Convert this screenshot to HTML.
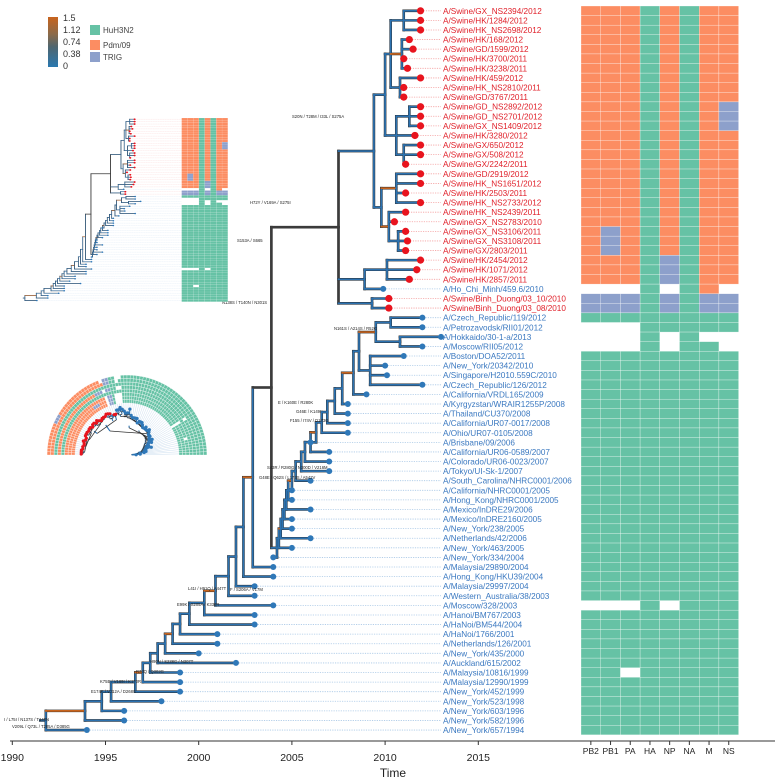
<!DOCTYPE html>
<html><head><meta charset="utf-8">
<style>
html,body{margin:0;padding:0;background:#fff;}
svg{display:block;font-family:"Liberation Sans",sans-serif;}
</style></head>
<body>
<svg id="fig" width="775" height="781" viewBox="0 0 775 781" xmlns="http://www.w3.org/2000/svg">
<defs>
<linearGradient id="rateGrad" x1="0" y1="0" x2="0" y2="1">
<stop offset="0" stop-color="#c8641e"/><stop offset="0.35" stop-color="#8a6a4a"/><stop offset="0.6" stop-color="#4f6670"/><stop offset="1" stop-color="#2a78b0"/>
</linearGradient>
</defs>
<g id="legend">
<rect x="48" y="17" width="10" height="50" fill="url(#rateGrad)"/>
<g font-size="9" fill="#333">
<text x="63" y="21">1.5</text>
<text x="63" y="33">1.12</text>
<text x="63" y="45">0.74</text>
<text x="63" y="57">0.38</text>
<text x="63" y="69">0</text>
</g>
<rect x="90" y="25" width="10" height="10" fill="#66c2a5"/>
<rect x="90" y="40" width="10" height="10" fill="#fc8d62"/>
<rect x="90" y="52" width="10" height="10" fill="#8da0cb"/>
<g font-size="8" fill="#444">
<text x="103" y="33">HuH3N2</text>
<text x="103" y="48">Pdm/09</text>
<text x="103" y="60">TRIG</text>
</g>
</g>
<g id="main"></g>
<g id="inset1" transform="translate(11.4,116.5) scale(0.293,0.252)"></g>
<g id="inset2"></g>
<g id="axis"></g>
</svg>
<script>
const names = ["A/Swine/GX_NS2394/2012","A/Swine/HK/1284/2012","A/Swine/HK_NS2698/2012","A/Swine/HK/168/2012","A/Swine/GD/1599/2012","A/Swine/HK/3700/2011","A/Swine/HK/3238/2011","A/Swine/HK/459/2012","A/Swine/HK_NS2810/2011","A/Swine/GD/3767/2011","A/Swine/GD_NS2892/2012","A/Swine/GD_NS2701/2012","A/Swine/GX_NS1409/2012","A/Swine/HK/3280/2012","A/Swine/GX/650/2012","A/Swine/GX/508/2012","A/Swine/GX/2242/2011","A/Swine/GD/2919/2012","A/Swine/HK_NS1651/2012","A/Swine/HK/2503/2011","A/Swine/HK_NS2733/2012","A/Swine/HK_NS2439/2011","A/Swine/GX_NS2783/2010","A/Swine/GX_NS3106/2011","A/Swine/GX_NS3108/2011","A/Swine/GX/2803/2011","A/Swine/HK/2454/2012","A/Swine/HK/1071/2012","A/Swine/HK/2857/2011","A/Ho_Chi_Minh/459.6/2010","A/Swine/Binh_Duong/03_10/2010","A/Swine/Binh_Duong/03_08/2010","A/Czech_Republic/119/2012","A/Petrozavodsk/RII01/2012","A/Hokkaido/30-1-a/2013","A/Moscow/RII05/2012","A/Boston/DOA52/2011","A/New_York/20342/2010","A/Singapore/H2010.559C/2010","A/Czech_Republic/126/2012","A/California/VRDL165/2009","A/Kyrgyzstan/WRAIR1255P/2008","A/Thailand/CU370/2008","A/California/UR07-0017/2008","A/Ohio/UR07-0105/2008","A/Brisbane/09/2006","A/California/UR06-0589/2007","A/Colorado/UR06-0023/2007","A/Tokyo/UI-Sk-1/2007","A/South_Carolina/NHRC0001/2006","A/California/NHRC0001/2005","A/Hong_Kong/NHRC0001/2005","A/Mexico/InDRE29/2006","A/Mexico/InDRE2160/2005","A/New_York/238/2005","A/Netherlands/42/2006","A/New_York/463/2005","A/New_York/334/2004","A/Malaysia/29890/2004","A/Hong_Kong/HKU39/2004","A/Malaysia/29997/2004","A/Western_Australia/38/2003","A/Moscow/328/2003","A/Hanoi/BM767/2003","A/HaNoi/BM544/2004","A/HaNoi/1766/2001","A/Netherlands/126/2001","A/New_York/435/2000","A/Auckland/615/2002","A/Malaysia/10816/1999","A/Malaysia/12990/1999","A/New_York/452/1999","A/New_York/523/1998","A/New_York/603/1996","A/New_York/582/1996","A/New_York/657/1994"];
const tipYears = [2011.9,2011.9,2011.9,2011.3,2011.5,2011.0,2011.2,2011.9,2011.0,2011.0,2011.9,2011.9,2011.9,2011.6,2011.9,2011.9,2011.1,2011.9,2011.9,2011.1,2011.9,2011.1,2010.5,2011.1,2011.2,2011.1,2011.9,2011.7,2011.3,2009.9,2010.2,2010.2,2012.0,2012.0,2013.0,2012.0,2011.0,2010.0,2010.1,2012.0,2009.0,2008.0,2008.0,2008.0,2008.0,2006.0,2007.0,2007.0,2007.0,2006.0,2005.0,2005.0,2006.0,2005.0,2005.0,2006.0,2005.0,2004.0,2004.0,2004.0,2003.0,2003.0,2004.0,2003.0,2003.0,2001.0,2001.0,2000.0,2002.0,1999.0,1999.0,1999.0,1998.0,1996.0,1996.0,1994.0];
const segmentNames = ["PB2","PB1","PA","HA","NP","NA","M","NS"];
const segmentOrigin = ["OOOGOGOO","OOOGOGOO","OOOGOGOO","OOOGOGOO","OOOGOGOO","OOOGOGOO","OOOGOGOO","OOOGOGOO","OOOGOGOO","OOOGOGOO","OOOGOGOB","OOOGOGOB","OOOGOGOB","OOOGOGOO","OOOGOGOO","OOOGOGOO","OOOGOGOO","OOOGOGOO","OOOGOGOO","OOOGOGOO","OOOGOGOO","OOOGOGOO","OOOGOGOO","OBOGOGOO","OBOGOGOO","OBOGOGOO","OOOGBGOO","OOOGBGOO","OOOGBGOO","WWWGWGOW","BBBGBGBB","BBBGBGBB","GGGGGGGG","WWWGGGGG","WWWGWGWW","WWWGWGGW","GGGGGGGG","GGGGGGGG","GGGGGGGG","GGGGGGGG","GGGGGGGG","GGGGGGGG","GGGGGGGG","GGGGGGGG","GGGGGGGG","GGGGGGGG","GGGGGGGG","GGGGGGGG","GGGGGGGG","GGGGGGGG","GGGGGGGG","GGGGGGGG","GGGGGGGG","GGGGGGGG","GGGGGGGG","GGGGGGGG","GGGGGGGG","GGGGGGGG","GGGGGGGG","GGGGGGGG","GGGGGGGG","GGGGGGGG","WWWGWGGG","GGGGGGGG","GGGGGGGG","GGGGGGGG","GGGGGGGG","GGGGGGGG","GGGGGGGG","GGWGGGGG","GGGGGGGG","GGGGGGGG","GGGGGGGG","GGGGGGGG","GGGGGGGG","GGGGGGGG"];
const axisYears = [1990,1995,2000,2005,2010,2015];
const lowerRows = [75,74,73,72,71,70,69,68,67,66,65,64,63,62,61,60,59,58];
const lowerTimes = [1991.8,1993.9,1994.8,1995.3,1996.6,1997.0,1997.4,1997.8,1998.2,1998.6,1999.0,1999.5,2000.3,2000.9,2001.6,2002.0,2002.4,2002.9];
const upperRows = [57,56,55,54,53,52,51,50,49,48,47,46,45,44,43,42,41,40];
const upperTimes = [2004.2,2004.3,2004.4,2004.5,2004.6,2004.7,2004.8,2005.0,2005.2,2005.5,2005.7,2006.0,2006.3,2006.6,2006.9,2007.3,2007.7,2008.3];

const CAT = {O:"#fc8d62",G:"#66c2a5",B:"#8da0cb"};
const X0=12.3, PX=18.64, Y0=6, RH=9.59, HX=581, CW=19.7;
function xs(t){return X0+(t-1990)*PX;}
function ys(r){return Y0+(r+0.5)*RH;}
const SVGNS="http://www.w3.org/2000/svg";
function mk(tag,attrs,parent){const e=document.createElementNS(SVGNS,tag);for(const k in attrs)e.setAttribute(k,attrs[k]);parent.appendChild(e);return e;}

function L(r){return {leaf:r};}
function N(t,c,col){return {t:t,c:c,col:col||"b"};}
let topClade = N(upperTimes[upperTimes.length-1]+0.3,[
  N(2009.2,[L(39),L(38),L(37),L(36)]),
  N(2009.5,[N(2010.3,[L(32),L(33)]),N(2010.8,[L(34),L(35)])],"o")
]);
let hBranch = topClade;
for(let i=upperRows.length-1;i>=0;i--){hBranch=N(upperTimes[i],[L(upperRows[i]),hBranch],i%5===2?"o":"b");}
const redClade = N(2009.4,[
  N(2010.0,[
    N(2010.3,[N(2011.0,[L(0),L(1),L(2)]),N(2010.9,[L(3),L(4),L(5),L(6)],"o"),N(2010.8,[L(7),L(8),L(9)])]),
    N(2010.6,[N(2011.3,[L(10),L(11),L(12)]),L(13),N(2011.0,[L(14),L(15),L(16)])])
  ]),
  N(2009.8,[N(2010.6,[L(17),L(18),L(19),L(20)],"o"),N(2010.2,[L(21),L(22),N(2010.7,[L(23),L(24),L(25)])],"o")])
]);
const swineClade = N(2007.5,[redClade,N(2008.9,[N(2010.1,[L(26),L(27),L(28)]),L(29)]),N(2009.3,[L(30),L(31)])],"d");
let loBranch = N(2003.9,[swineClade,hBranch],"d");
for(let i=lowerRows.length-1;i>=0;i--){loBranch=N(lowerTimes[i],[L(lowerRows[i]),loBranch],i%4===1?"o":"b");}
const treeRoot = loBranch;

function layout(n){
  if(n.leaf!==undefined){n.y=ys(n.leaf);n.tt=tipYears[n.leaf];return n.y;}
  n.tt=n.t;
  const yy=n.c.map(layout);
  n.ymin=Math.min(...yy);n.ymax=Math.max(...yy);
  n.y=(n.ymin+n.ymax)/2;return n.y;
}
layout(treeRoot);
const COL={b:"#2c72b0",o:"#c8641e",d:"#3c3c3c"};
function isRedRow(r){return r<29 || r===30 || r===31;}

function drawTree(g, withLabels){
  const tg=mk("g",{},g);
  const lines=[];
  function walk(n){
    if(n.leaf!==undefined)return;
    lines.push([xs(n.t),n.ymin,xs(n.t),n.ymax,n.col==="d"?"d":"b"]);
    n.c.forEach(ch=>{
      const col = ch.leaf!==undefined ? "b" : ch.col;
      lines.push([xs(n.t),ch.y,xs(ch.tt),ch.y,col]);
      walk(ch);
    });
  }
  lines.push([xs(1991.5),treeRoot.y,xs(treeRoot.t),treeRoot.y,"b"]);
  walk(treeRoot);
  for(let r=0;r<names.length;r++){
    const l=mk("line",{x1:xs(tipYears[r])+3,y1:ys(r),x2:withLabels?441:HX,y2:ys(r),stroke:isRedRow(r)?"#f4a0a0":"#a9c8e6","stroke-width":0.8,"stroke-dasharray":"1.2,1.2"},tg);
    
    
  }
  lines.forEach(s=>{mk("line",{x1:s[0],y1:s[1],x2:s[2],y2:s[3],stroke:"#2a2a2a","stroke-width":2.6,"stroke-linecap":"square"},tg);});
  lines.forEach(s=>{
    const l=mk("line",{x1:s[0],y1:s[1],x2:s[2],y2:s[3],stroke:COL[s[4]],"stroke-width":s[4]==="d"?2.2:1.7,"stroke-linecap":"square"},tg);
    
    
  });
  for(let r=0;r<names.length;r++){
    const red=isRedRow(r);
    const c=mk("circle",{cx:xs(tipYears[r]),cy:ys(r),r:red?3.6:3,fill:red?"#e8141e":"#2f78b8"},tg);
    
    
    if(withLabels){
      const t=mk("text",{x:443,y:ys(r)+3,"font-size":8.2,fill:red?"#e0202a":"#3a78c0"},g);
      t.textContent=names[r];
      
      
    }
  }
  const hg=mk("g",{},g);
  for(let r=0;r<segmentOrigin.length;r++){
    for(let c=0;c<8;c++){
      const k=segmentOrigin[r][c]; if(k==="W")continue;
      const rc=mk("rect",{x:HX+c*CW,y:Y0+r*RH,width:CW,height:RH,fill:CAT[k],stroke:"#ffffff","stroke-width":0.4,"stroke-opacity":0.7},hg);
      
      
    }
  }
}
drawTree(document.getElementById("main"),true);
drawTree(document.getElementById("inset1"),false);

const mainG=document.getElementById("main");
[["S20N / T28M / I33L / S275A",292,118],["H72Y / V169A / S275I",250,204],["S153A / S665",237,242],["N138S / T140N / N301S",222,304],["N161S / A214S / R52G",334,330],["F / S206A / V17M",230,591],["L41I / H91Q / A447T",188,590],["E99K / S205A / K338R",177,606],["K75E / V169I / K170R",100,683],["E174K / V212A / D268G",91,693],["V209L / Q73L / T205A / D385G",12,728],["I / L75I / N137S / T140N",4,721],["F155 / I74V / D173G",290,422],["G46E / K149I",296,413],["S43R / R280G / N300D / V216M",267,469],["G48E / Q62S / L173S / A542V",259,479],["R73Q / Q302G",136,673],["H90N / S238G / N307T",150,663],["E / K160E / R280K",278,404]].forEach(a=>{
  const t=mk("text",{x:a[1],y:a[2],"font-size":4.2,fill:"#222"},mainG);
  t.textContent=a[0];
  
  
});

const ci=document.getElementById("inset2");
const CX=127, CY=455;
function pol(r,rad){const a=Math.PI-(r+0.5)/76*Math.PI;return [CX+rad*Math.cos(a),CY-rad*Math.sin(a)];}
function rr(t){return 4+(t-1991.5)*2.05;}
for(let r=0;r<76;r++){
  const a0=Math.PI-r/76*Math.PI, a1=Math.PI-(r+1)/76*Math.PI;
  for(let c=0;c<8;c++){
    const k=segmentOrigin[r][c]; if(k==="W")continue;
    const R0=52+c*3.5,R1=R0+3.4;
    const p=`M${CX+R0*Math.cos(a0)},${CY-R0*Math.sin(a0)} L${CX+R1*Math.cos(a0)},${CY-R1*Math.sin(a0)} A${R1},${R1} 0 0 1 ${CX+R1*Math.cos(a1)},${CY-R1*Math.sin(a1)} L${CX+R0*Math.cos(a1)},${CY-R0*Math.sin(a1)} A${R0},${R0} 0 0 0 ${CX+R0*Math.cos(a0)},${CY-R0*Math.sin(a0)}Z`;
    const e=mk("path",{d:p,fill:CAT[k],stroke:"#fff","stroke-width":0.3},ci);
    
    
  }
  const pt=pol(r,rr(tipYears[r])), pe=pol(r,52);
  const ln=mk("line",{x1:pt[0],y1:pt[1],x2:pe[0],y2:pe[1],stroke:"#cfe0f0","stroke-width":0.5},ci);
  
  
}
(function walkc(n){
  if(n.leaf!==undefined){return;}
  n.c.forEach(ch=>{
    const rowc = (ch.y-Y0)/RH-0.5;
    const p0=pol(rowc,rr(n.t)), p1=pol(rowc,rr(ch.tt));
    const l=mk("line",{x1:p0[0],y1:p0[1],x2:p1[0],y2:p1[1],stroke:"#2c72b0","stroke-width":1.1},ci);
    
    
    walkc(ch);
  });
  const ra=pol((n.ymin-Y0)/RH-0.5,rr(n.t)), rb=pol((n.ymax-Y0)/RH-0.5,rr(n.t));
  const l=mk("line",{x1:ra[0],y1:ra[1],x2:rb[0],y2:rb[1],stroke:"#333","stroke-width":0.8},ci);
  
  
})(treeRoot);
for(let r=0;r<76;r++){
  const red=isRedRow(r);
  const p=pol(r,rr(tipYears[r]));
  const c=mk("circle",{cx:p[0],cy:p[1],r:1.6,fill:red?"#e8141e":"#2f78b8"},ci);
  
  
}

const ax=document.getElementById("axis");
mk("line",{x1:10,y1:741,x2:775,y2:741,stroke:"#333","stroke-width":1},ax);
axisYears.forEach(y=>{
  mk("line",{x1:xs(y),y1:741,x2:xs(y),y2:745,stroke:"#333","stroke-width":1},ax);
  const t=mk("text",{x:xs(y),y:761,"font-size":10.5,"text-anchor":"middle",fill:"#222"},ax);
  t.textContent=y;
  
  
});
segmentNames.forEach((s,i)=>{
  const x=HX+(i+0.5)*CW;
  mk("line",{x1:x,y1:741,x2:x,y2:745,stroke:"#333","stroke-width":1},ax);
  const t=mk("text",{x:x,y:754,"font-size":8.5,"text-anchor":"middle",fill:"#222"},ax);
  t.textContent=s;
  
  
});
const tl=mk("text",{x:393,y:777,"font-size":12,"text-anchor":"middle",fill:"#222"},ax);
tl.textContent="Time";


</script>
</body></html>
